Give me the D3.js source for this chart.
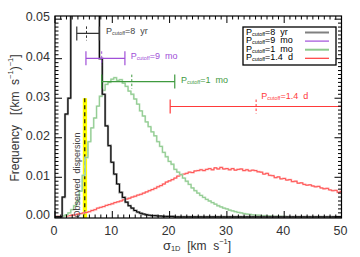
<!DOCTYPE html>
<html><head><meta charset="utf-8">
<script src="https://cdn.jsdelivr.net/npm/d3@7"></script>
<style>body{margin:0;background:#fff}svg{display:block}text{white-space:pre}</style>
</head><body>
<script>
// ---------- DATA ----------
const binWidth = 0.5; // km/s, bins centred on 0, 0.5, 1.0 ... 50
const hist8yr = [0,0,0,0.005,0.026,0.030,0.055,0.075,0.090,0.100,0.105,0.100,0.095,0.085,0.070,0.055,
 0.040,0.031,0.023,0.018,0.0138,0.0108,0.0083,0.0062,0.0049,0.0037,0.0028,0.0022,0.0016,0.0012,0.0009,0.0007,
 0.0005,0.0004,0.0003,0.0003,0.0002,0.0002,0.0001,0.0001,0.0001,0.0001,0,0,0,0,0,0,0,0,
 0,0,0,0,0,0,0,0,0,0,0,0,0,0,0,0,0,0,0,0,0,0,0,0,0,0,0,0,0,0,0,0,0,0,0,0,0,0,0,0,0,0,0,0,0,0,0,0,0,0,0];
const hist1mo = [0,0,0,0.0002,0.0005,0.001,0.0018,0.0028,0.004,0.0065,0.0105,0.015,0.019,0.0225,0.025,0.028,
 0.0305,0.032,0.0335,0.034,0.0348,0.0352,0.0345,0.0347,0.0338,0.033,0.0318,0.031,0.0298,0.0285,0.0268,0.0255,
 0.024,0.0228,0.0215,0.0205,0.019,0.0178,0.0163,0.0152,0.014,0.0133,0.012,0.0113,0.0107,0.0098,0.009,0.0082,
 0.0073,0.0066,0.006,0.0054,0.0049,0.0044,0.004,0.0036,0.0032,0.0028,0.0025,0.0022,0.002,0.0017,0.0015,0.0013,
 0.0011,0.001,0.0008,0.0007,0.0006,0.0005,0.0004,0.0004,0.0003,0.0003,0.0002,0.0002,0.0001,0.0001,0.0001,0.0001,0.0001,
 0,0,0,0,0,0,0,0,0,0,0,0,0,0,0,0,0,0,0,0];
const hist14d = [0,0.0001,0.0001,0.0002,0.0002,0.0003,0.0004,0.0005,0.0007,0.0008,0.001,0.0011,0.0013,0.0016,0.0018,0.0022,
 0.0024,0.0026,0.0029,0.0031,0.0033,0.0036,0.0038,0.004,0.0043,0.0045,0.0047,0.005,0.0052,0.0055,0.0057,0.006,
 0.0063,0.0066,0.0069,0.0072,0.0076,0.0079,0.0083,0.0088,0.0091,0.0094,0.0098,0.0103,0.0106,0.0108,0.011,0.0113,
 0.0112,0.0116,0.0117,0.0119,0.0117,0.012,0.0122,0.0119,0.0124,0.0121,0.0125,0.0121,0.0122,0.0119,0.0122,0.0118,
 0.012,0.0121,0.0117,0.0119,0.0116,0.0118,0.0117,0.0114,0.0113,0.0108,0.011,0.0105,0.0104,0.0099,0.0101,0.0096,
 0.0097,0.0093,0.0094,0.0089,0.009,0.0085,0.0086,0.0082,0.008,0.0081,0.0078,0.0076,0.0077,0.0073,0.0071,0.0072,
 0.0068,0.0066,0.0067,0.0062,0.0064];

// error bars: [low, median, high] of sigma_1D, plotted at a frequency level
const periods = ["8  yr", "9  mo", "1  mo", "1.4  d"];
const errLevel = [0.0464, 0.0401, 0.0342, 0.0279];
const errLow   = [3.8, 5.4, 8.15, 20.1];
const errMed   = [5.5, 8.15, 13.4, 35.1];
const errHigh  = [7.75, 12.2, 20.9, 60];
const errLabelX = [8.9, 13.2, 22.0, 36.0];
const colors = ["#808080", "#a04fd8", "#8cc98c", "#ff3a3a"];
const errColors = ["#333333", "#a04fd8", "#3f9a3f", "#ff3a3a"];

const obsDisp = [4.85, 5.2, 5.6];  // band low, value, band high
const obsTop = 0.030;

const xTicks = [0, 10, 20, 30, 40, 50];
const yTicks = [0.00, 0.01, 0.02, 0.03, 0.04, 0.05];

// ---------- LAYOUT ----------
const W = 360, H = 257;
const L = 55, R = 341.5, T = 16, B = 218;
const x = d3.scaleLinear().domain([0, 50]).range([L, R]);
const y = d3.scaleLinear().domain([-0.0003, 0.0508]).range([B, T]);

const svg = d3.select("body").append("svg").attr("width", W).attr("height", H)
  .style("font-family", "'Liberation Sans', Arial, sans-serif");

svg.append("defs").append("clipPath").attr("id", "clip")
  .append("rect").attr("x", L).attr("y", T).attr("width", R - L).attr("height", B - T);

const plot = svg.append("g").attr("clip-path", "url(#clip)");

function histPoints(vals) {
  const pts = vals.map((v, i) => [i * binWidth - binWidth / 2, v]);
  pts.push([(vals.length - 1) * binWidth + binWidth / 2, vals[vals.length - 1]]);
  return pts;
}
const stepLine = d3.line().x(d => x(d[0])).y(d => y(d[1])).curve(d3.curveStepAfter);

// observed dispersion band
plot.append("rect").attr("x", x(obsDisp[0])).attr("width", x(obsDisp[2]) - x(obsDisp[0]))
  .attr("y", y(obsTop)).attr("height", y(0) - y(obsTop) + 2).attr("fill", "#ffff00");
plot.append("line").attr("x1", x(obsDisp[1])).attr("x2", x(obsDisp[1]))
  .attr("y1", y(obsTop)).attr("y2", y(0)).attr("stroke", "#000").attr("stroke-width", 1.1)
  .attr("stroke-dasharray", "4,3");

// histograms
plot.append("path").attr("d", stepLine(histPoints(hist14d))).attr("fill", "none")
  .attr("stroke", "#ffb8b8").attr("stroke-width", 1.8);
plot.append("path").attr("d", stepLine(histPoints(hist14d))).attr("fill", "none")
  .attr("stroke", "#ff4a4a").attr("stroke-width", 0.9);
plot.append("path").attr("d", stepLine(histPoints(hist1mo))).attr("fill", "none")
  .attr("stroke", "#c2e4c2").attr("stroke-width", 1.8);
plot.append("path").attr("d", stepLine(histPoints(hist1mo))).attr("fill", "none")
  .attr("stroke", "#8cc88c").attr("stroke-width", 0.9);
plot.append("path").attr("d", stepLine(histPoints(hist8yr))).attr("fill", "none")
  .attr("stroke", "#909090").attr("stroke-width", 2.2);
plot.append("path").attr("d", stepLine(histPoints(hist8yr))).attr("fill", "none")
  .attr("stroke", "#000").attr("stroke-width", 1);

// error bars
periods.forEach((p, i) => {
  const g = plot.append("g").attr("stroke", errColors[i]).attr("stroke-width", 1.2);
  const yy = y(errLevel[i]);
  g.append("line").attr("x1", x(errLow[i])).attr("x2", x(errHigh[i])).attr("y1", yy).attr("y2", yy);
  [errLow[i], errHigh[i]].forEach(v => g.append("line").attr("x1", x(v)).attr("x2", x(v))
    .attr("y1", yy - 7).attr("y2", yy + 7));
  g.append("line").attr("x1", x(errMed[i])).attr("x2", x(errMed[i])).attr("y1", yy - 7).attr("y2", yy + 7)
    .attr("stroke-dasharray", "2.5,2").attr("stroke-width", 1);
});

function pLabel(sel, xx, yy, txt, col, size) {
  const t = sel.append("text").attr("x", xx).attr("y", yy).attr("fill", col)
    .attr("font-size", size).attr("dominant-baseline", "middle");
  t.append("tspan").text("P");
  t.append("tspan").attr("font-size", size * 0.6).attr("dy", 2).text("cutoff");
  t.append("tspan").attr("dy", -2).text("=" + txt);
  return t;
}
// error bar labels
const labY = [errLevel[0], errLevel[1], errLevel[2], errLevel[3] + 0.0022];
periods.forEach((p, i) => {
  pLabel(svg, x(errLabelX[i]), y(labY[i]) - 1, p, i === 0 ? "#444" : errColors[i], 9);
});

// observed dispersion label
svg.append("text").attr("transform", `translate(${x(3.9)},${y(0.0106)}) rotate(-90)`)
  .attr("text-anchor", "middle").attr("dominant-baseline", "middle")
  .attr("font-size", 9).attr("fill", "#444").text("Observed  dispersion");

// axes
const ax = svg.append("g");
ax.append("rect").attr("x", L).attr("y", T).attr("width", R - L).attr("height", B - T)
  .attr("fill", "none").attr("stroke", "#000").attr("stroke-width", 1.2);

const xMinor = d3.range(0, 50.001, 1);
const yMinor = d3.range(0, 0.0505, 0.001);
xMinor.forEach(v => {
  const big = xTicks.includes(v);
  const len = big ? 7 : 3.5;
  ax.append("line").attr("x1", x(v)).attr("x2", x(v)).attr("y1", B).attr("y2", B - len).attr("stroke", "#000");
  ax.append("line").attr("x1", x(v)).attr("x2", x(v)).attr("y1", T).attr("y2", T + len).attr("stroke", "#000");
});
yMinor.forEach((v, k) => {
  const big = k % 10 === 0;
  const len = big ? 7 : 3.5;
  ax.append("line").attr("y1", y(v)).attr("y2", y(v)).attr("x1", L).attr("x2", L + len).attr("stroke", "#000");
  ax.append("line").attr("y1", y(v)).attr("y2", y(v)).attr("x1", R).attr("x2", R - len).attr("stroke", "#000");
});
xTicks.forEach(v => ax.append("text").attr("x", x(v) - 1).attr("y", 232).attr("text-anchor", "middle")
  .attr("dominant-baseline", "middle").attr("font-size", 12.5).attr("fill", "#333").text(d3.format("d")(v)));
yTicks.forEach(v => ax.append("text").attr("x", 50).attr("y", y(v) - 1).attr("text-anchor", "end")
  .attr("dominant-baseline", "middle").attr("font-size", 12.5).attr("fill", "#333").text(d3.format(".2f")(v)));

// axis titles
const xt = svg.append("text").attr("x", 197).attr("y", 247).attr("text-anchor", "middle")
  .attr("dominant-baseline", "middle").attr("font-size", 12).attr("fill", "#333");
xt.append("tspan").attr("font-size", 13).text("σ");
xt.append("tspan").attr("font-size", 7.5).attr("dy", 2).text("1D");
xt.append("tspan").attr("dy", -2).text("  [km  s");
xt.append("tspan").attr("font-size", 7.5).attr("dy", -5).text("−1");
xt.append("tspan").attr("dy", 5).text("]");

const yt = svg.append("text").attr("transform", "translate(16,118) rotate(-90)").attr("text-anchor", "middle")
  .attr("dominant-baseline", "middle").attr("font-size", 12).attr("fill", "#333");
yt.append("tspan").text("Frequency   [(km  s");
yt.append("tspan").attr("font-size", 7.5).attr("dy", -5).text("−1");
yt.append("tspan").attr("dy", 5).text(")");
yt.append("tspan").attr("font-size", 7.5).attr("dy", -5).text("−1");
yt.append("tspan").attr("dy", 5).text("]");

// legend
const lg = svg.append("g");
const lx0 = 243, ly0 = 27, lw = 93, lh = 38;
lg.append("rect").attr("x", lx0).attr("y", ly0).attr("width", lw).attr("height", lh)
  .attr("fill", "#fff").attr("stroke", "#000").attr("stroke-width", 1.3);
periods.forEach((p, i) => {
  const yy = ly0 + 5.5 + i * 8.6;
  pLabel(lg, lx0 + 3, yy, p, "#000", 9);
  lg.append("line").attr("x1", lx0 + 62).attr("x2", lx0 + 86).attr("y1", yy).attr("y2", yy)
    .attr("stroke", colors[i]).attr("stroke-width", (i === 0 || i === 2) ? 2 : 1.2);
});
</script>
</body></html>
